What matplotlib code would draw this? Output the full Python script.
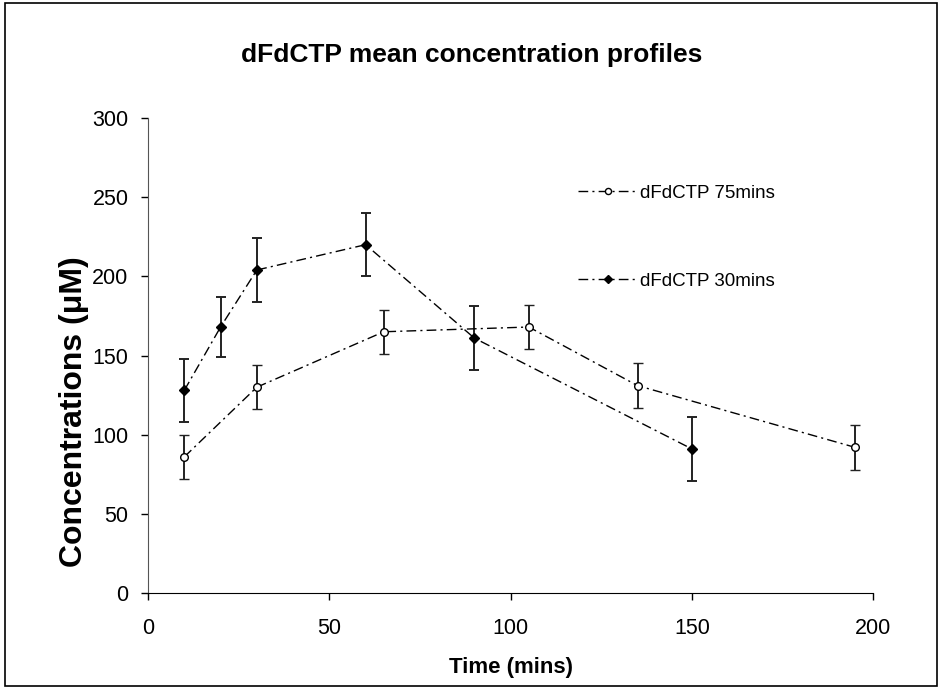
import matplotlib
matplotlib.use("Agg")
import matplotlib.pyplot as plt
from matplotlib.patches import Rectangle

plt.rcParams['font.family'] = ['Liberation Sans', 'DejaVu Sans']

# 75 min infusion
t75 = [10, 30, 65, 105, 135, 195]
c75 = [86, 130, 165, 168, 131, 92]
e75 = [14, 14, 14, 14, 14, 14]

# 30 min infusion
t30 = [10, 20, 30, 60, 90, 150]
c30 = [128, 168, 204, 220, 161, 91]
e30 = [20, 19, 20, 20, 20, 20]

fig = plt.figure(figsize=(9.43, 6.88), dpi=100)
ax = fig.add_axes([0.157, 0.138, 0.769, 0.6905])

dash = (0, (7, 3, 1.5, 3))

ax.errorbar(t75, c75, yerr=e75, color='black', ls=dash, lw=1.0,
            marker='o', ms=5.5, mfc='white', mec='black', mew=1.0,
            ecolor='#222222', elinewidth=1.4, capsize=3.8, capthick=1.4,
            label='dFdCTP 75mins')
ax.errorbar(t30, c30, yerr=e30, color='black', ls=dash, lw=1.0,
            marker='D', ms=5.5, mfc='black', mec='black',
            ecolor='#222222', elinewidth=1.4, capsize=3.8, capthick=1.4,
            label='dFdCTP 30mins')

ax.set_xlim(0, 200)
ax.set_ylim(0, 300)
ax.set_xticks([0, 50, 100, 150, 200])
ax.set_yticks([0, 50, 100, 150, 200, 250, 300])
ax.tick_params(direction='out', length=5, width=1, labelsize=15.5)
ax.tick_params(axis='x', pad=13)
ax.tick_params(axis='y', pad=9)
ax.spines['top'].set_visible(False)
ax.spines['right'].set_visible(False)
ax.spines['left'].set_color('#555555')

fig.text(0.5, 0.92, 'dFdCTP mean concentration profiles', fontsize=19,
         fontweight='bold', ha='center', va='center')
ax.set_xlabel('Time (mins)', fontsize=16, fontweight='bold')
ax.xaxis.set_label_coords(0.5, -0.135)
ax.set_ylabel('Concentrations (μM)', fontsize=23, fontweight='bold')
ax.yaxis.set_label_coords(-0.082, 0.381)

handles, labels = ax.get_legend_handles_labels()
leg = ax.legend([h[0] for h in handles], labels, loc='upper left',
                bbox_to_anchor=(0.613, 0.732), bbox_transform=fig.transFigure,
                frameon=False, fontsize=13.5, markerscale=0.8,
                handlelength=3.2, handletextpad=0.1, labelspacing=3.8,
                borderpad=0, borderaxespad=0)

# outer border around the whole chart
fig.patches.append(Rectangle((0.005, 0.003), 0.989, 0.992, transform=fig.transFigure,
                             fill=False, edgecolor='black', lw=1.2))

fig.savefig('out.png', dpi=100)
